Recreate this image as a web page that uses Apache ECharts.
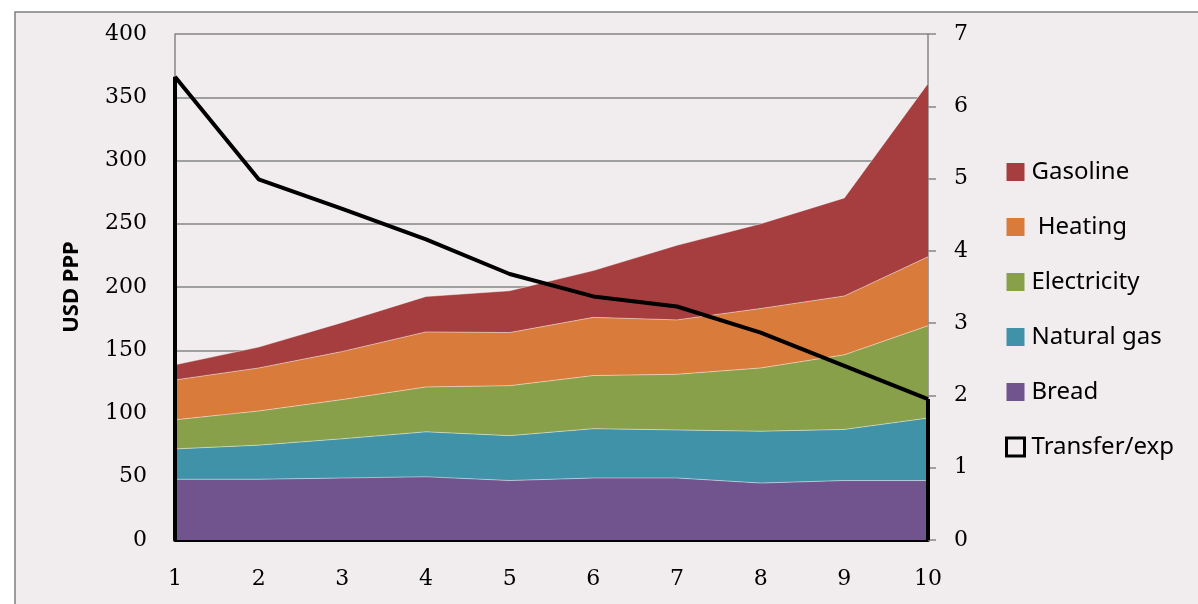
<!DOCTYPE html>
<html>
<head>
<meta charset="utf-8">
<script src="https://cdn.jsdelivr.net/npm/echarts@6/dist/echarts.min.js"></script>
<style>
html,body{margin:0;padding:0;background:#fff;}
#c{width:1198px;height:604px;}
</style>
</head>
<body>
<div id="c"></div>
<script>
const categories = ['1','2','3','4','5','6','7','8','9','10'];
const bread = [48, 48, 49, 50, 47, 49, 49, 45, 47, 47];
const naturalGas = [24, 27, 31, 35.5, 35.5, 39, 38, 41, 40.4, 49.4];
const electricity = [23, 27, 31, 35.5, 39.5, 42, 44, 50, 59, 73];
const heating = [31.5, 34, 38, 43.5, 42, 46, 43, 47, 46.5, 54.5];
const gasoline = [12, 16.5, 23, 28, 33, 37, 59, 67, 77.5, 137];
const transferExp = [6.41, 4.99, 4.58, 4.16, 3.68, 3.37, 3.23, 2.87, 2.41, 1.95];
const leftTicks = {min: 0, max: 400, interval: 50};
const rightTicks = {min: 0, max: 7, interval: 1};

const tickFont = {fontFamily: 'DejaVu Serif', fontSize: 22, color: '#000'};
const chart = echarts.init(document.getElementById('c'));

function area(name, data, color) {
  return {
    name: name, type: 'line', stack: 'total', data: data,
    symbol: 'none', smooth: false,
    lineStyle: {width: 1, color: 'rgba(255,255,255,0.45)'},
    areaStyle: {color: color, opacity: 1},
    itemStyle: {color: color},
    z: 2
  };
}

chart.setOption({
  backgroundColor: '#ffffff',
  animation: false,
  graphic: [{
    type: 'rect', z: -10, silent: true,
    shape: {x: 15, y: 12, width: 1300, height: 700},
    style: {fill: '#f1edee', stroke: '#7f7f7f', lineWidth: 1.5}
  }],
  grid: {left: 175, right: 270, top: 34, bottom: 64, containLabel: false},
  legend: {
    orient: 'vertical', left: 1000, top: 155,
    itemWidth: 18, itemHeight: 18, itemGap: 31,
    textStyle: {fontFamily: 'Noto Sans', fontSize: 24, lineHeight: 24, color: '#000', padding: [0,0,0,2]},
    data: [
      {name: 'Gasoline', icon: 'rect'},
      {name: ' Heating', icon: 'rect'},
      {name: 'Electricity', icon: 'rect'},
      {name: 'Natural gas', icon: 'rect'},
      {name: 'Bread', icon: 'rect'},
      {name: 'Transfer/exp', icon: 'rect', itemStyle: {color: 'transparent', borderColor: '#000', borderWidth: 3}}
    ]
  },
  xAxis: {
    type: 'category', data: categories, boundaryGap: false,
    axisLine: {show: true, lineStyle: {color: '#000', width: 4}},
    axisTick: {show: false},
    axisLabel: Object.assign({margin: 28}, tickFont),
    splitLine: {show: false}
  },
  yAxis: [{
    type: 'value', min: leftTicks.min, max: leftTicks.max, interval: leftTicks.interval,
    name: 'USD PPP', nameLocation: 'middle', nameGap: 92, nameRotate: 90,
    nameTextStyle: {fontFamily: 'Noto Sans', fontWeight: 'bold', fontSize: 22, color: '#000'},
    axisLine: {show: true, lineStyle: {color: '#868686', width: 1.5}},
    axisTick: {show: false},
    axisLabel: Object.assign({margin: 28}, tickFont),
    splitLine: {show: true, lineStyle: {color: '#868686', width: 1.5}}
  }, {
    type: 'value', position: 'right', min: rightTicks.min, max: rightTicks.max, interval: rightTicks.interval,
    axisLine: {show: true, lineStyle: {color: '#868686', width: 1.5}},
    axisTick: {show: true, length: 8, lineStyle: {color: '#868686', width: 1.5}},
    axisLabel: Object.assign({margin: 26}, tickFont),
    splitLine: {show: false}
  }],
  series: [
    area('Bread', bread, '#71538e'),
    area('Natural gas', naturalGas, '#4092a8'),
    area('Electricity', electricity, '#89a04a'),
    area(' Heating', heating, '#d97b3a'),
    area('Gasoline', gasoline, '#a63e40'),
    {
      name: 'Transfer/exp', type: 'line', yAxisIndex: 1, data: transferExp,
      symbol: 'none', z: 5,
      lineStyle: {color: '#000', width: 4},
      itemStyle: {color: '#000'},
      markLine: {
        silent: true, symbol: 'none', label: {show: false},
        lineStyle: {color: '#000', width: 4, type: 'solid'},
        data: [
          [{coord: [categories[0], 0]}, {coord: [categories[0], transferExp[0]]}],
          [{coord: [categories[categories.length-1], 0]}, {coord: [categories[categories.length-1], transferExp[transferExp.length-1]]}]
        ]
      }
    }
  ]
});
</script>
</body>
</html>
